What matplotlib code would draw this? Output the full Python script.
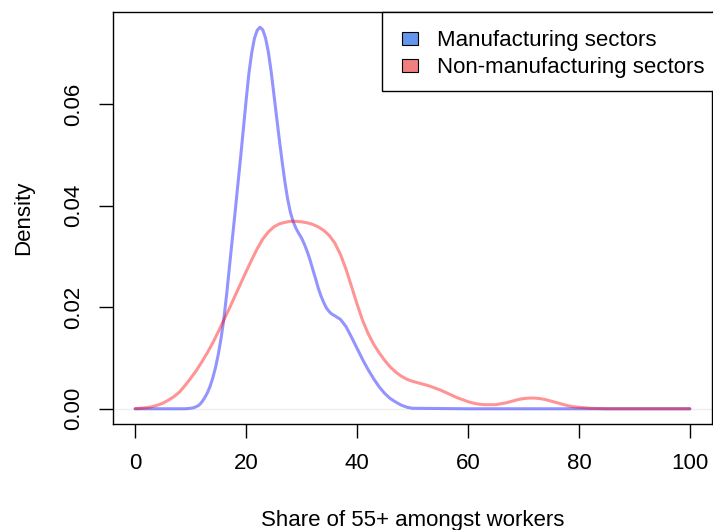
import matplotlib
matplotlib.use("Agg")
import matplotlib.pyplot as plt
from matplotlib.patches import Rectangle

plt.rcParams['font.family'] = ['Liberation Sans', 'DejaVu Sans']

# Manufacturing sectors density
manu_x = [0, 5, 8, 9, 10, 10.5, 11, 11.5, 12, 12.5, 13, 13.5, 14, 14.5, 15, 15.5, 16,
          16.5, 17, 17.5, 18, 18.5, 19, 19.5, 20, 20.5, 21, 21.5, 22, 22.5, 23, 23.5,
          24, 24.5, 25, 25.5, 26, 26.5, 27, 27.5, 28, 28.5, 29, 29.5, 30, 30.5, 31,
          31.5, 32, 32.5, 33, 33.5, 34, 34.5, 35, 35.5, 36, 37, 38, 39, 40, 41, 42,
          43, 44, 45, 46, 47, 48, 49, 50, 60, 70, 80, 90, 100]
manu_y = [0.0, 0.0, 0.0, 0.0, 0.0001, 0.0002, 0.0004, 0.0007, 0.0013, 0.0021, 0.0031,
          0.0044, 0.0061, 0.0082, 0.0108, 0.0140, 0.0178, 0.0226, 0.0280, 0.0333,
          0.0385, 0.0440, 0.0494, 0.0550, 0.0607, 0.0660, 0.0700, 0.0729, 0.0745,
          0.0751, 0.0746, 0.0730, 0.0703, 0.0665, 0.0620, 0.0574, 0.0529, 0.0486,
          0.0446, 0.0412, 0.0386, 0.0368, 0.0355, 0.0345, 0.0336, 0.0324, 0.0310,
          0.0294, 0.0275, 0.0257, 0.0238, 0.0222, 0.0209, 0.0198, 0.0191, 0.0186,
          0.0183, 0.0176, 0.0162, 0.0141, 0.0119, 0.0097, 0.0077, 0.0059, 0.0043,
          0.0030, 0.0020, 0.0013, 0.0007, 0.0003, 0.0001, 0.0, 0.0, 0.0, 0.0, 0.0]

# Non-manufacturing sectors density
non_x = [0, 1, 2, 3, 4, 5, 6, 7, 8, 9, 10, 11, 12, 13, 14, 15, 16, 17, 18, 19, 20,
         21, 22, 23, 24, 25, 26, 27, 28, 29, 30, 31, 32, 33, 34, 35, 36, 37, 38, 39,
         40, 41, 42, 43, 44, 45, 46, 47, 48, 49, 50, 51, 52, 53, 54, 55, 56, 57, 58,
         59, 60, 61, 62, 63, 64, 65, 66, 67, 68, 69, 70, 71, 72, 73, 74, 75, 76, 77,
         78, 79, 80, 82, 85, 90, 100]
non_y = [0.0, 0.0001, 0.0002, 0.0004, 0.0007, 0.0011, 0.0017, 0.0024, 0.0033, 0.0046,
         0.0060, 0.0075, 0.0092, 0.0110, 0.0130, 0.0152, 0.0175, 0.0198, 0.0222,
         0.0246, 0.0270, 0.0293, 0.0315, 0.0334, 0.0348, 0.0358, 0.0364, 0.0367,
         0.0369, 0.0369, 0.0368, 0.0366, 0.0363, 0.0358, 0.0351, 0.0341, 0.0326,
         0.0304, 0.0275, 0.0241, 0.0206, 0.0174, 0.0148, 0.0127, 0.0110, 0.0095,
         0.0082, 0.0072, 0.0064, 0.0058, 0.0054, 0.0051, 0.0048, 0.0045, 0.0041,
         0.0037, 0.0032, 0.0027, 0.0022, 0.0018, 0.0014, 0.0011, 0.0009, 0.0008,
         0.0008, 0.0008, 0.0010, 0.0012, 0.0015, 0.0018, 0.0020, 0.0021, 0.0021,
         0.0020, 0.0018, 0.0015, 0.0012, 0.0009, 0.0006, 0.0004, 0.0003, 0.0001,
         0.0, 0.0, 0.0]

x_ticks = [0, 20, 40, 60, 80, 100]
y_ticks = [0.0, 0.02, 0.04, 0.06]
y_tick_labels = ['0.00', '0.02', '0.04', '0.06']
legend_labels = ['Manufacturing sectors', 'Non-manufacturing sectors']
legend_colors = ['#6495ED', '#F08080']

W, H = 713, 530
fig = plt.figure(figsize=(W / 100, H / 100), dpi=100)
ax = fig.add_axes([113 / W, (H - 424) / H, (712 - 113) / W, (424 - 12) / H])

ax.axhline(0, color='#eeeeee', lw=1, zorder=1)
ax.plot(manu_x, manu_y, color='blue', alpha=0.42, lw=2.2, solid_capstyle='round',
        solid_joinstyle='round', zorder=2)
ax.plot(non_x, non_y, color='red', alpha=0.42, lw=2.2, solid_capstyle='round',
        solid_joinstyle='round', zorder=3)

ax.set_xlim(-4, 104)
ax.set_ylim(-0.003, 0.0781)
ax.set_xticks(x_ticks)
ax.set_yticks(y_ticks)
ax.set_yticklabels(y_tick_labels, rotation=90, va='center')
ax.tick_params(axis='both', direction='out', length=10, width=1, labelsize=16, pad=11)
for s in ax.spines.values():
    s.set_linewidth(1.0)
    s.set_color('black')

ax.set_xlabel('Share of 55+ amongst workers', fontsize=16, labelpad=26)
ax.set_ylabel('Density', fontsize=16, labelpad=21)


# legend drawn in figure pixel positions (top-left origin)
def fx(px):
    return px / W


def fy(py):
    return (H - py) / H


frame = Rectangle((fx(382), fy(91)), fx(760) - fx(382), fy(12) - fy(91),
                  transform=fig.transFigure, facecolor='white', edgecolor='black',
                  lw=1.0, zorder=10)
fig.add_artist(frame)
row_tops = [31.5, 58.5]
for top, lab, col in zip(row_tops, legend_labels, legend_colors):
    sq = Rectangle((fx(401.5), fy(top + 13.5)), fx(418) - fx(401.5), fy(top) - fy(top + 13.5),
                   transform=fig.transFigure, facecolor=col, edgecolor='black',
                   lw=0.8, zorder=11)
    fig.add_artist(sq)
    fig.text(fx(437), fy(top + 14.8), lab, fontsize=16, ha='left', va='baseline',
             zorder=12)

fig.savefig('out.png', dpi=100)
